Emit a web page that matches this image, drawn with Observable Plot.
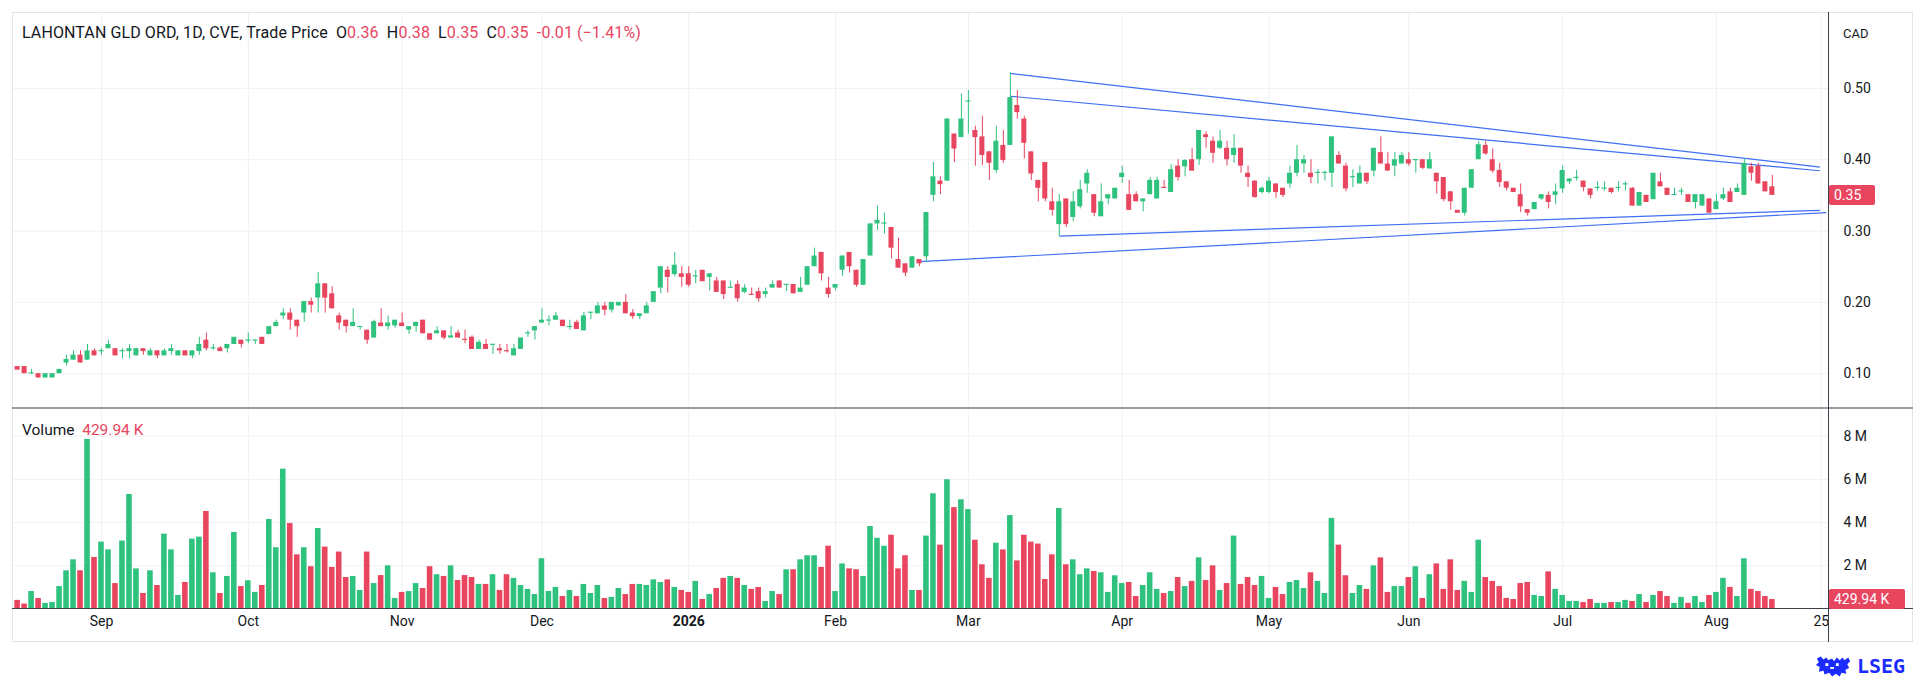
<!DOCTYPE html>
<html><head><meta charset="utf-8">
<script src="https://cdn.jsdelivr.net/npm/d3@7"></script>
<script src="https://cdn.jsdelivr.net/npm/@observablehq/plot@0.6"></script>
<style>
html,body{margin:0;padding:0;background:#fff;}
#wrap{position:relative;width:1920px;height:681px;overflow:hidden;font-family:Roboto,"Liberation Sans",sans-serif;color:#131722;}
#wrap svg.plotsvg{position:absolute;left:0;}
.ln{position:absolute;}
.lbl{position:absolute;white-space:nowrap;}
.box{position:absolute;color:#fff;background:#e8455f;border-radius:2px;font-size:14px;line-height:20px;height:20px;padding-left:5px;box-sizing:border-box;}
</style></head>
<body><div id="wrap"></div>
<script>
// ---------- data ----------
const openP = [
.110,.110,.100,.100,.094,.094,.100,.115,.119,.126,
.119,.132,.131,.135,.135,.131,.131,.125,.135,.125,
.132,.125,.131,.125,.132,.125,.131,.147,.135,.136,
.135,.141,.147,.146,.146,.151,.155,.166,.181,.185,
.175,.185,.201,.206,.226,.212,.181,.175,.166,.165,
.161,.150,.171,.166,.167,.171,.161,.166,.175,.156,
.156,.160,.150,.157,.148,.151,.134,.141,.140,.135,
.132,.125,.134,.156,.160,.171,.174,.175,.175,.165,
.172,.160,.185,.184,.195,.189,.195,.200,.185,.180,
.184,.200,.220,.245,.239,.240,.240,.236,.245,.235,
.230,.230,.220,.225,.214,.211,.215,.211,.220,.230,
.224,.225,.214,.224,.250,.270,.220,.220,.245,.270,
.245,.224,.265,.310,.310,.305,.260,.254,.248,.260,
.264,.350,.370,.370,.436,.431,.481,.441,.432,.411,
.385,.420,.420,.476,.457,.411,.371,.396,.341,.309,
.345,.319,.334,.366,.351,.320,.345,.345,.375,.351,
.351,.341,.351,.345,.361,.354,.391,.390,.400,.400,
.435,.426,.416,.416,.406,.416,.381,.370,.354,.354,
.366,.360,.366,.381,.394,.381,.381,.381,.381,.406,
.391,.375,.366,.381,.384,.410,.394,.391,.394,.400,
.399,.400,.387,.381,.375,.355,.329,.325,.360,.400,
.420,.400,.385,.369,.360,.351,.330,.330,.345,.350,
.350,.359,.369,.374,.370,.359,.360,.359,.360,.360,
.365,.360,.335,.350,.344,.369,.360,.350,.355,.351,
.340,.335,.345,.330,.345,.355,.354,.350,.390,.391,
.369,.362];
const highP = [
.110,.110,.106,.100,.100,.100,.106,.126,.132,.132,
.141,.135,.135,.147,.135,.135,.141,.135,.135,.135,
.132,.135,.141,.132,.132,.132,.151,.157,.141,.138,
.141,.151,.147,.157,.147,.151,.166,.175,.191,.191,
.175,.201,.206,.242,.226,.222,.185,.175,.191,.166,
.161,.175,.191,.181,.175,.185,.166,.172,.175,.156,
.166,.160,.166,.161,.161,.153,.147,.148,.141,.141,
.141,.141,.150,.160,.166,.191,.181,.186,.175,.175,
.175,.186,.186,.200,.200,.200,.200,.211,.190,.184,
.200,.215,.250,.250,.270,.250,.250,.245,.245,.240,
.235,.230,.230,.230,.225,.220,.220,.220,.230,.230,
.224,.225,.235,.250,.276,.270,.235,.225,.265,.270,
.245,.260,.310,.335,.325,.305,.290,.254,.264,.260,
.326,.396,.376,.457,.436,.492,.497,.447,.461,.411,
.447,.441,.522,.497,.461,.411,.371,.396,.360,.351,
.345,.355,.371,.386,.351,.366,.351,.360,.391,.371,
.355,.345,.375,.375,.371,.393,.400,.400,.416,.441,
.439,.432,.441,.426,.435,.416,.391,.370,.362,.375,
.366,.360,.391,.420,.406,.400,.386,.384,.432,.411,
.395,.386,.391,.381,.416,.432,.410,.410,.410,.410,
.400,.400,.410,.381,.375,.355,.329,.360,.386,.426,
.426,.415,.395,.369,.360,.366,.330,.340,.351,.355,
.366,.391,.373,.385,.370,.359,.369,.369,.360,.369,
.369,.361,.354,.350,.381,.381,.360,.360,.360,.351,
.351,.351,.345,.351,.360,.360,.366,.401,.395,.395,
.369,.378];
const lowP = [
.105,.100,.099,.094,.094,.094,.100,.111,.119,.115,
.119,.125,.126,.135,.125,.121,.121,.125,.126,.125,
.121,.125,.126,.125,.125,.121,.126,.132,.133,.131,
.129,.141,.136,.142,.141,.141,.155,.166,.176,.161,
.151,.172,.185,.185,.185,.191,.161,.157,.166,.161,
.141,.150,.166,.161,.164,.166,.155,.158,.156,.147,
.156,.147,.150,.150,.142,.134,.134,.134,.127,.127,
.129,.125,.134,.151,.147,.171,.167,.175,.166,.161,
.162,.160,.176,.184,.181,.185,.195,.184,.176,.176,
.184,.200,.212,.213,.236,.221,.221,.226,.229,.216,
.214,.204,.220,.200,.212,.210,.200,.206,.220,.220,
.215,.212,.214,.224,.250,.230,.206,.216,.236,.241,
.221,.224,.265,.301,.296,.261,.248,.236,.248,.250,
.257,.341,.351,.370,.396,.431,.436,.391,.392,.371,
.381,.395,.420,.457,.401,.371,.341,.341,.321,.292,
.305,.313,.331,.353,.320,.320,.337,.345,.367,.329,
.341,.327,.351,.345,.360,.354,.370,.376,.384,.392,
.416,.395,.414,.391,.395,.381,.361,.346,.352,.352,
.346,.347,.360,.376,.381,.366,.366,.370,.361,.394,
.355,.361,.366,.365,.376,.394,.384,.376,.394,.391,
.381,.386,.387,.352,.341,.329,.325,.321,.360,.400,
.406,.381,.361,.356,.354,.326,.321,.330,.343,.331,
.337,.353,.365,.370,.355,.345,.356,.356,.352,.355,
.356,.335,.335,.340,.344,.362,.350,.350,.350,.340,
.331,.335,.325,.330,.343,.340,.354,.350,.370,.366,
.355,.350];
const closeP = [
.105,.100,.101,.094,.100,.100,.106,.120,.126,.115,
.132,.125,.132,.141,.125,.132,.135,.135,.131,.132,
.125,.132,.135,.132,.125,.132,.141,.135,.136,.131,
.141,.151,.141,.147,.147,.141,.166,.172,.185,.175,
.166,.201,.196,.226,.206,.191,.171,.166,.172,.166,
.147,.173,.166,.171,.175,.166,.166,.172,.156,.147,
.160,.150,.153,.150,.147,.134,.144,.134,.141,.132,
.131,.135,.150,.157,.166,.175,.175,.181,.166,.166,
.162,.181,.186,.195,.189,.200,.200,.184,.180,.184,
.195,.215,.250,.235,.252,.235,.224,.237,.229,.240,
.214,.211,.221,.205,.220,.210,.205,.215,.225,.220,
.225,.212,.220,.250,.265,.240,.211,.225,.265,.250,
.224,.260,.310,.315,.311,.276,.248,.241,.264,.254,
.326,.376,.365,.457,.415,.457,.482,.431,.406,.395,
.426,.399,.487,.466,.423,.380,.360,.345,.329,.341,
.309,.341,.358,.381,.325,.341,.351,.360,.381,.329,
.341,.345,.371,.371,.360,.386,.375,.399,.384,.441,
.431,.409,.426,.400,.416,.391,.375,.347,.360,.370,
.354,.350,.381,.400,.400,.375,.382,.382,.432,.394,
.359,.376,.381,.369,.416,.394,.384,.400,.406,.394,
.400,.388,.400,.369,.344,.341,.325,.360,.386,.421,
.408,.384,.368,.360,.354,.334,.325,.340,.351,.340,
.355,.385,.373,.375,.361,.350,.361,.360,.354,.361,
.366,.335,.354,.340,.381,.362,.350,.351,.356,.340,
.351,.351,.325,.341,.351,.340,.360,.395,.381,.366,
.355,.350];
// volume in millions
const volumeM = [
.39,.22,.80,.48,.25,.29,1.03,1.76,2.27,1.76,
7.85,2.38,3.09,2.73,1.17,3.14,5.30,1.85,.71,1.76,
1.08,3.46,2.73,.62,1.22,3.23,3.32,4.51,1.67,.71,
1.50,3.54,1.03,1.30,.76,1.08,4.14,2.83,6.47,3.95,
2.50,2.83,1.95,3.72,2.86,1.92,2.63,1.45,1.50,.85,
2.63,1.17,1.54,1.99,.48,.76,.80,1.17,.94,1.95,
1.58,1.50,1.99,1.31,1.54,1.45,1.13,1.13,1.58,.85,
1.58,1.41,1.08,.90,.66,2.32,.80,.99,.57,.85,
.57,1.13,.71,1.08,.48,.53,.94,.66,1.13,1.13,
1.08,1.34,1.22,1.34,.99,.85,.76,1.27,.43,.66,
.94,1.41,1.50,1.41,1.08,.90,.99,.34,.80,.66,
1.81,1.81,2.27,2.46,2.46,1.92,2.90,.80,2.08,1.85,
1.81,1.50,3.81,3.27,2.90,3.41,1.85,2.46,.85,.85,
3.37,5.33,2.95,5.98,4.69,5.05,4.60,3.18,2.04,1.41,
3.04,2.73,4.32,2.22,3.41,3.09,3.00,1.36,2.50,4.65,
2.04,2.27,1.58,1.85,1.73,1.67,.76,1.53,1.17,1.22,
.57,1.08,1.67,.90,.71,.80,1.45,1.03,1.27,2.36,
1.31,1.99,.85,1.17,3.37,1.13,1.45,1.08,1.50,.48,
.99,.66,1.22,1.31,.94,1.67,1.27,.71,4.19,2.95,
1.53,.71,1.08,.90,1.99,2.36,.76,1.03,1.03,1.45,
1.95,.48,1.58,2.08,.90,2.27,.85,1.27,.76,3.18,
1.45,1.27,1.03,.48,.43,1.17,1.22,.62,.57,1.71,
.90,.62,.34,.34,.29,.43,.25,.25,.29,.29,
.39,.34,.66,.29,.62,.80,.57,.25,.53,.25,
.57,.29,.62,.76,1.41,.99,.57,2.32,.90,.80,
.57,.42994];
// time axis (trading-day index of first session of each month)
const tickIdx    = [12,33,55,75,96,117,136,158,179,199,221,243,258];
const tickLabels = ["Sep","Oct","Nov","Dec","2026","Feb","Mar","Apr","May","Jun","Jul","Aug","25"];
const boldLabels = ["2026"];
const priceTicks  = [0.10,0.20,0.30,0.40,0.50];
const volumeTicks = [2,4,6,8];
// user-drawn trend lines (trading-day index, price)
const trendStartIdx   = [142, 142, 129, 149];
const trendStartPrice = [0.521, 0.489, 0.257, 0.293];
const trendEndIdx     = [257.8, 257.8, 258.7, 257.8];
const trendEndPrice   = [0.3897, 0.3845, 0.3258, 0.3291];

// ---------- build ----------
const UP = "#2fc27f", DOWN = "#e8455f", GRID = "#f0f1f4", TXT = "#131722";
const candles = openP.map((o, i) => ({i, o, h: highP[i], l: lowP[i], c: closeP[i], v: volumeM[i]}));
const col = d => d.c >= d.o ? UP : DOWN;
const bodyLo = d => { const lo = Math.min(d.o, d.c), hi = Math.max(d.o, d.c); return hi - lo < 0.0016 ? (lo + hi) / 2 - 0.0008 : lo; };
const bodyHi = d => { const lo = Math.min(d.o, d.c), hi = Math.max(d.o, d.c); return hi - lo < 0.0016 ? (lo + hi) / 2 + 0.0008 : hi; };
const trends = trendStartIdx.map((x1, k) => ({x1, y1: trendStartPrice[k], x2: trendEndIdx[k], y2: trendEndPrice[k]}));
const ticks = tickIdx.map((x, k) => ({x, label: tickLabels[k], bold: boldLabels.includes(tickLabels[k])}));

const W = 1920, XDOM = [-0.73, 259.03];
const style = {fontFamily: "Roboto, 'Liberation Sans', sans-serif", fontSize: "14px", color: TXT, background: "transparent", overflow: "visible"};

const price = Plot.plot({
  width: W, height: 408, marginLeft: 12, marginRight: 92, marginTop: 12, marginBottom: 0,
  style,
  x: {domain: XDOM, axis: null},
  y: {domain: [0.0512, 0.6064], axis: null},
  marks: [
    Plot.ruleX(tickIdx, {stroke: GRID}),
    Plot.ruleY(priceTicks, {stroke: GRID}),
    Plot.axisY(priceTicks, {anchor: "right", label: null, tickSize: 0, tickPadding: 15, tickFormat: d3.format(".2f"), fontSize: 14}),
    Plot.link(trends, {x1: "x1", y1: "y1", x2: "x2", y2: "y2", stroke: "#3f6ff2", strokeWidth: 1.2}),
    Plot.ruleX(candles, {x: "i", y1: "l", y2: "h", stroke: col, strokeWidth: 1}),
    Plot.rect(candles, {x1: d => d.i - 0.36, x2: d => d.i + 0.36, y1: bodyLo, y2: bodyHi, fill: col})
  ]
});
price.classList.add("plotsvg"); price.style.top = "0px";

const VOL_TOP = 408;
const vol = Plot.plot({
  width: W, height: 273, marginLeft: 12, marginRight: 92, marginTop: 2, marginBottom: 72.7,
  style,
  x: {domain: XDOM, axis: null},
  y: {domain: [0, 9.19], axis: null},
  marks: [
    Plot.ruleX(tickIdx, {stroke: GRID}),
    Plot.ruleY(volumeTicks, {stroke: GRID}),
    Plot.rect(candles, {x1: d => d.i - 0.4, x2: d => d.i + 0.4, y1: 0, y2: "v", fill: col}),
    Plot.axisY(volumeTicks, {anchor: "right", label: null, tickSize: 0, tickPadding: 15, tickFormat: d => d + " M", fontSize: 14}),
    Plot.text(ticks.filter(d => !d.bold), {x: "x", text: "label", frameAnchor: "bottom", dy: 17.4, fontSize: 14, fill: TXT}),
    Plot.text(ticks.filter(d => d.bold), {x: "x", text: "label", frameAnchor: "bottom", dy: 17.4, fontSize: 14, fontWeight: "bold", fill: TXT})
  ]
});
vol.classList.add("plotsvg"); vol.style.top = VOL_TOP + "px";

const wrap = document.getElementById("wrap");
wrap.appendChild(price);
wrap.appendChild(vol);

function add(html) { wrap.insertAdjacentHTML("beforeend", html); }
// frame and pane lines
add(`<div class="ln" style="left:12px;top:12px;width:1901px;height:630px;border:1px solid #e3e5ea;box-sizing:border-box;"></div>`);
add(`<div class="ln" style="left:12px;top:407px;width:1901px;height:2px;background:#9a9da6;"></div>`);
add(`<div class="ln" style="left:12px;top:608px;width:1901px;height:1px;background:#3c3f47;"></div>`);
add(`<div class="ln" style="left:1828px;top:12px;width:1px;height:630px;background:#3c3f47;"></div>`);

// title
const last = candles[candles.length - 1];
const f2 = d3.format(".2f");
add(`<div class="lbl" style="left:22px;top:24px;font-size:16px;line-height:18px;letter-spacing:0.1px;">LAHONTAN GLD ORD, 1D, CVE, Trade Price&nbsp;&nbsp;O<span style="color:${DOWN}">${f2(last.o)}</span>&nbsp;&nbsp;H<span style="color:${DOWN}">${f2(last.h)}</span>&nbsp;&nbsp;L<span style="color:${DOWN}">${f2(last.l)}</span>&nbsp;&nbsp;C<span style="color:${DOWN}">${f2(last.c)}</span>&nbsp;&nbsp;<span style="color:${DOWN}">-0.01 (−1.41%)</span></div>`);
add(`<div class="lbl" style="left:1843px;top:26px;font-size:13px;line-height:16px;">CAD</div>`);
add(`<div class="lbl" style="left:22px;top:421px;font-size:15.5px;line-height:18px;">Volume&nbsp;&nbsp;<span style="color:${DOWN}">429.94 K</span></div>`);

// last value labels on the axes
const yPrice = price.scale("y").apply(last.c);
add(`<div class="box" style="left:1829px;top:${yPrice - 10}px;width:46px;">${f2(last.c)}</div>`);
const yVol = VOL_TOP + vol.scale("y").apply(last.v);
add(`<div class="box" style="left:1829px;top:${yVol - 10}px;width:76px;">429.94 K</div>`);

// LSEG logo
add(`<div class="lbl" style="left:1815px;top:655px;width:38px;height:24px;">
<svg width="38" height="24" viewBox="0 0 40 24"><g fill="#1b2bff">
<path d="M2 3 L6 1 L9 4 L12 2 L14 5 L18 3 L20 6 L23 2 L26 5 L29 2 L31 5 L35 2 L37 6 L34 9 L36 13 L32 15 L33 19 L28 18 L26 22 L22 19 L18 22 L15 18 L10 20 L9 16 L4 17 L5 12 L1 10 L4 7 Z"/>
</g><g fill="#fff"><rect x="11" y="8" width="3" height="3"/><rect x="22" y="8" width="3" height="3"/><rect x="16" y="12" width="4" height="2"/></g></svg></div>`);
add(`<div class="lbl" style="left:1857px;top:654px;font-size:20px;line-height:24px;font-weight:bold;color:#1b2bff;font-family:'DejaVu Sans Mono',monospace;">LSEG</div>`);
</script></body></html>
